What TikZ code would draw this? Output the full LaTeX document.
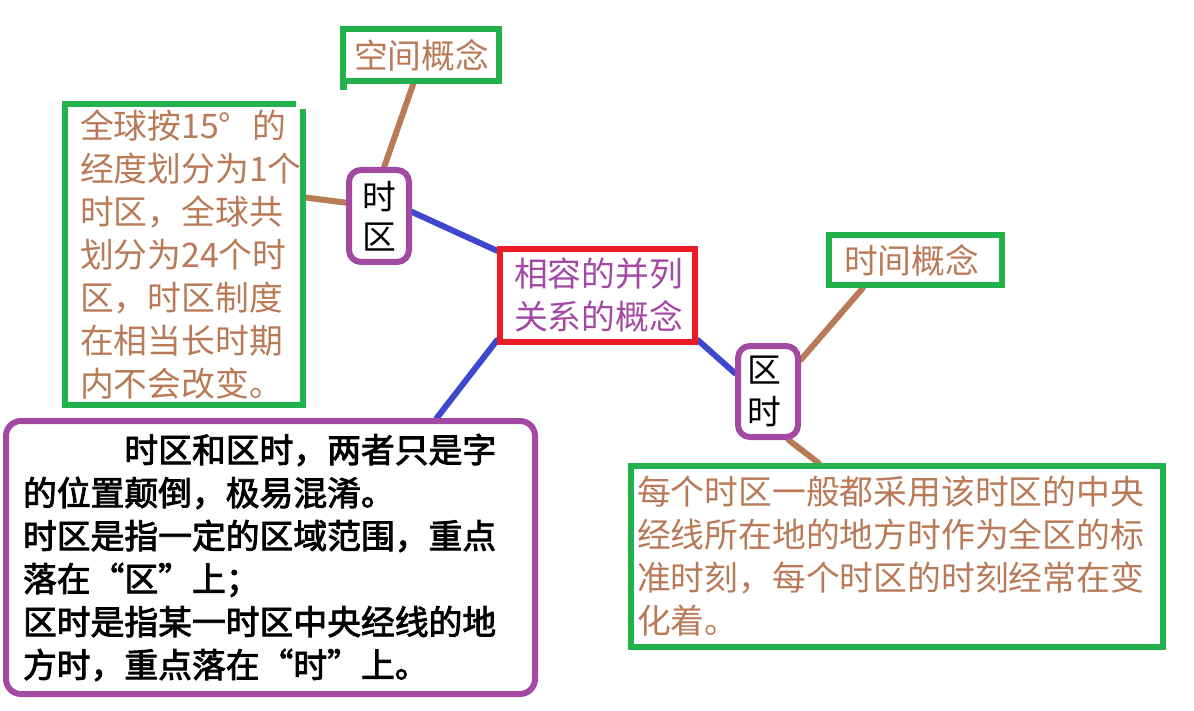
\documentclass[tikz,border=0pt]{standalone}
\usepackage{fontspec}
\usepackage{tikz}
\usetikzlibrary{calc, positioning, backgrounds}
\setmainfont{Noto Sans CJK SC}
\newfontfamily\heavycjk{Noto Sans CJK SC}[FakeBold=2.5]
\definecolor{mygreen}{RGB}{34,177,76}
\definecolor{myred}{RGB}{237,28,36}
\definecolor{mypurple}{RGB}{163,73,164}
\definecolor{myblue}{RGB}{63,72,204}
\definecolor{mybrown}{RGB}{185,122,87}
\tikzstyle{gbox}=[draw=mygreen, line width=6pt, inner ysep=0pt, align=left, text=mybrown, font=\fontsize{33.8}{43}\selectfont]
\tikzstyle{zbox}=[draw=mypurple, line width=6pt, rounded corners=12pt, inner ysep=0pt, font=\fontsize{33.8}{40}\selectfont]
\tikzstyle{brn}=[mybrown, line width=6pt, line cap=round]
\tikzstyle{blu}=[myblue, line width=6pt, line cap=round]

\begin{document}
\begin{tikzpicture}[x=1pt, y=-1pt]
\useasboundingbox (0,0) rectangle (1194,711);

\node[gbox, minimum width=156pt, minimum height=52pt, text width=134pt, inner xsep=11pt] (kong) at (421,55) {空间概念};
\fill[mygreen] (340,84) rectangle (347,90);
\node[gbox, minimum width=238pt, minimum height=301pt, text width=208pt, inner xsep=15pt] (quan) at (184,254.5) {全球按15\makebox[1em][l]{°}的\\经度划分为1个\\时区，全球共\\划分为24个时\\区，时区制度\\在相当长时期\\内不会改变。};
\fill[white] (296,101) rectangle (306,109);

\node[zbox, minimum width=60pt, minimum height=92pt, text width=34pt, inner xsep=13pt, align=center] (shiqu) at (379,216) {时\\区};
\node[draw=myred, line width=6pt, minimum width=195pt, minimum height=93pt, text width=167pt, inner xsep=14pt, inner ysep=0pt, align=left, text=mypurple, font=\fontsize{33.8}{43}\selectfont] (xiang) at (597.5,295.5) {相容的并列\\关系的概念};
\node[zbox, minimum width=60pt, minimum height=91pt, text width=42pt, inner xsep=9pt, align=left, font=\fontsize{33.8}{42}\selectfont] (qushi) at (768,391.5) {区\\时};
\node[gbox, minimum width=173pt, minimum height=50pt, text width=143pt, inner xsep=15pt] (jian) at (915.5,260) {时间概念};
\node[gbox, minimum width=532pt, minimum height=181pt, text width=520pt, inner xsep=6pt] (mei) at (897,556.5) {每个时区一般都采用该时区的中央\\经线所在地的地方时作为全区的标\\准时刻，每个时区的时刻经常在变\\化着。};
\node[zbox, rounded corners=15pt, minimum width=529pt, minimum height=273pt, text width=495pt, inner xsep=17pt, align=left, font=\heavycjk\fontsize{33.8}{43}\selectfont] (liang) at (270.5,557.5) {\hspace*{3em}时区和区时，两者只是字\\的位置颠倒，极易混淆。\\时区是指一定的区域范围，重点\\落在\makebox[1em][r]{“}区\makebox[1em][l]{”}上；\\区时是指某一时区中央经线的地\\方时，重点落在\makebox[1em][r]{“}时\makebox[1em][l]{”}上。};

\begin{scope}[on background layer]
\draw[brn] (kong.255) -- (shiqu.84);
\draw[brn] (quan.25) -- (shiqu.158);
\draw[blu] (shiqu.7) -- (xiang.156);
\draw[blu] (xiang.204) -- (liang.40);
\draw[blu] (xiang.336) -- (qushi.151);
\draw[brn] (qushi.44) -- (jian.208);
\draw[brn] (qushi.293) -- (mei.130);
\end{scope}
\end{tikzpicture}
\end{document}
